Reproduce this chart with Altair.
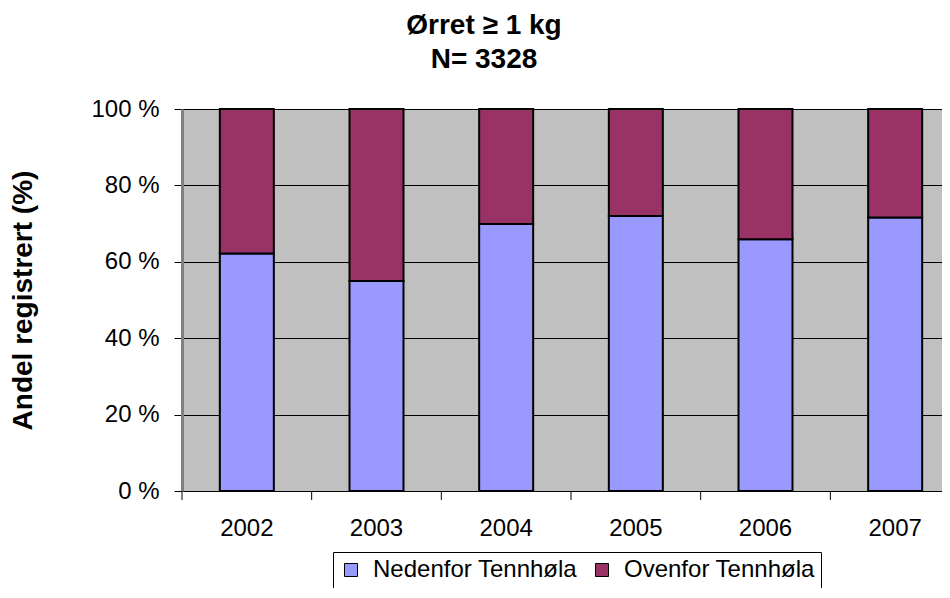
import altair as alt
import pandas as pd

years = ["2002", "2003", "2004", "2005", "2006", "2007"]
groups = ["Nedenfor Tennhøla", "Ovenfor Tennhøla"]
nedenfor = [62.2, 55.0, 69.9, 72.0, 65.9, 71.6]
ovenfor = [37.8, 45.0, 30.1, 28.0, 34.1, 28.4]
colors = ["#9999FF", "#993366"]
y_ticks = [0, 20, 40, 60, 80, 100]

df = pd.DataFrame({
    "year": years + years,
    "group": [groups[0]] * len(years) + [groups[1]] * len(years),
    "value": nedenfor + ovenfor,
    "ord": [0] * len(years) + [1] * len(years),
})
tick_df = pd.DataFrame({"year": years})

FONT = "Liberation Sans"

xscale = alt.Scale(paddingInner=0, paddingOuter=0, range=[0, 778])

bars = alt.Chart(df).mark_bar(size=54, stroke="black", strokeWidth=2).encode(
    x=alt.X("year:N", sort=years, scale=xscale,
            axis=alt.Axis(title=None, labelAngle=0, labelFontSize=24, ticks=False,
                          domain=False, labelPadding=25, labelColor="black",
                          labelFont=FONT)),
    y=alt.Y("value:Q", stack="zero",
            scale=alt.Scale(domain=[0, 100], nice=False),
            axis=alt.Axis(values=y_ticks, labelExpr="datum.value + ' %'",
                          title="Andel registrert (%)", titleFontSize=28,
                          titleFontWeight="bold", titleFont=FONT, titleColor="black",
                          titleX=-159, titleY=191, titleBaseline="middle", titleAngle=270,
                          labelFontSize=24, labelFont=FONT, labelColor="black",
                          labelPadding=15, tickSize=8, tickColor="black",
                          domainColor="#808080", domainWidth=3,
                          grid=True, gridColor="black", gridWidth=1, gridOpacity=1)),
    color=alt.Color("group:N",
                    scale=alt.Scale(domain=groups, range=colors),
                    legend=alt.Legend(orient="none", legendX=151, legendY=443,
                                      direction="horizontal", title=None,
                                      strokeColor="black", padding=6,
                                      symbolType="square", symbolSize=169,
                                      symbolStrokeColor="black", symbolStrokeWidth=1,
                                      labelFontSize=24, labelFont=FONT, labelColor="black",
                                      labelOffset=10, columnPadding=12, labelLimit=400)),
    order=alt.Order("ord:Q"),
)

ticks = alt.Chart(tick_df).mark_rule(color="black", strokeWidth=1).encode(
    x=alt.X("year:N", sort=years, bandPosition=0),
    y=alt.value(382),
    y2=alt.value(391),
)

chart = alt.layer(bars, ticks).properties(
    width=760,
    height=382,
    title=alt.TitleParams(text=["Ørret ≥ 1 kg", "N= 3328"], fontSize=28,
                          fontWeight="bold", font=FONT, color="black",
                          lineHeight=34, anchor="middle", dx=-78, offset=1,
                          baseline="alphabetic"),
    autosize=alt.AutoSizeParams(type="none"),
    padding={"left": 174, "top": 101, "right": 0, "bottom": 97},
    background="white",
).configure_view(fill="#C0C0C0", strokeWidth=0)

chart.save("out.html", embed_options={"renderer": "svg", "actions": False})
